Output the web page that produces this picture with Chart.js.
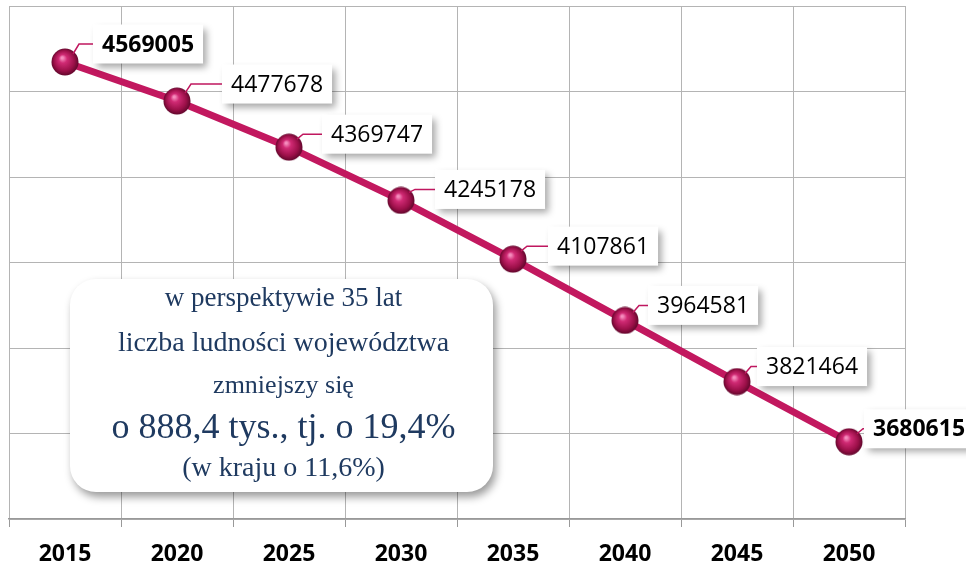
<!DOCTYPE html>
<html>
<head>
<meta charset="utf-8">
<script src="https://cdn.jsdelivr.net/npm/chart.js@4.4.1/dist/chart.umd.min.js"></script>
<style>
  body { margin: 0; background: #fff; }
  #wrap { width: 966px; height: 565px; }
</style>
</head>
<body>
<div id="wrap"><canvas id="popChart"></canvas></div>
<script>
// dane
var years = ['2015', '2020', '2025', '2030', '2035', '2040', '2045', '2050'];
var population = [4569005, 4477678, 4369747, 4245178, 4107861, 3964581, 3821464, 3680615];
var yMin = 3500000, yMax = 4700000, yStep = 200000;
var noteLines = [
  'w perspektywie 35 lat',
  'liczba ludności województwa',
  'zmniejszy się',
  'o 888,4 tys., tj. o 19,4%',
  '(w kraju o 11,6%)'
];

// kulka jako znacznik punktu
function makeBall(r) {
  var c = document.createElement('canvas');
  c.width = c.height = r * 2;
  var g = c.getContext('2d');
  var grad = g.createRadialGradient(r * 0.8, r * 0.7, 1, r, r, r);
  grad.addColorStop(0, '#f58cbd');
  grad.addColorStop(0.25, '#d02a74');
  grad.addColorStop(0.7, '#9c1049');
  grad.addColorStop(1, '#5c0629');
  g.fillStyle = grad;
  g.beginPath();
  g.arc(r, r, r - 0.5, 0, Math.PI * 2);
  g.fill();
  return c;
}
var ball = makeBall(14);

var labelPlugin = {
  id: 'boxLabels',
  afterDatasetsDraw: function(chart, args, opts) {
    var ctx = chart.ctx;
    var meta = chart.getDatasetMeta(0);
    var last = meta.data.length - 1;
    meta.data.forEach(function(pt, i) {
      var bold = (i === 0 || i === last);
      var txt = String(population[i]);
      ctx.save();
      ctx.font = (bold ? 'bold 23px' : '23px') + ' "Open Sans", sans-serif';
      var w = ctx.measureText(txt).width + 18;
      var h = 39;
      var bx = pt.x + opts.dx[i];
      var cy = pt.y + opts.dy[i];
      // odnośnik
      ctx.strokeStyle = '#c0175f';
      ctx.lineWidth = 1.5;
      ctx.beginPath();
      ctx.moveTo(pt.x + 8, pt.y - 8);
      ctx.lineTo(pt.x + 14, cy);
      ctx.lineTo(bx, cy);
      ctx.stroke();
      // ramka z cieniem
      ctx.shadowColor = 'rgba(0,0,0,0.35)';
      ctx.shadowBlur = 7;
      ctx.shadowOffsetX = 4;
      ctx.shadowOffsetY = 4;
      ctx.fillStyle = '#fff';
      ctx.fillRect(bx, cy - h / 2, w, h);
      ctx.shadowColor = 'transparent';
      ctx.fillStyle = '#000';
      ctx.textBaseline = 'middle';
      ctx.textAlign = 'left';
      ctx.fillText(txt, bx + 9, cy + 1);
      ctx.restore();
    });
  }
};

var notePlugin = {
  id: 'noteBox',
  afterDraw: function(chart) {
    var ctx = chart.ctx;
    var x = 70, y = 279, w = 423, h = 213, r = 26;
    ctx.save();
    ctx.shadowColor = 'rgba(0,0,0,0.4)';
    ctx.shadowBlur = 9;
    ctx.shadowOffsetX = 3;
    ctx.shadowOffsetY = 5;
    ctx.fillStyle = '#fff';
    ctx.beginPath();
    ctx.roundRect(x, y, w, h, r);
    ctx.fill();
    ctx.shadowColor = 'transparent';
    ctx.fillStyle = '#1f3a60';
    ctx.textAlign = 'center';
    ctx.textBaseline = 'alphabetic';
    var sizes = [27, 28, 26, 36, 28];
    var bases = [306, 351, 393, 438, 476];
    noteLines.forEach(function(line, i) {
      ctx.font = sizes[i] + 'px "Liberation Serif", serif';
      ctx.fillText(line, x + w / 2 + 2, bases[i]);
    });
    ctx.restore();
  }
};

var ctx = document.getElementById('popChart').getContext('2d');
var popChart = new Chart(ctx, {
  type: 'line',
  data: {
    labels: years,
    datasets: [{
      label: 'Ludność',
      data: population,
      borderColor: '#c2185f',
      borderWidth: 7,
      pointStyle: ball,
      pointRadius: 14,
      pointHoverRadius: 14,
      tension: 0,
      fill: false
    }]
  },
  options: {
    responsive: true,
    maintainAspectRatio: false,
    animation: false,
    events: [],
    layout: { autoPadding: false, padding: { left: 9, right: 61, top: 6, bottom: 0 } },
    plugins: {
      legend: { display: false },
      tooltip: { enabled: false },
      boxLabels: {
        dx: [28, 45, 33, 34, 35, 23, 20, 15],
        dy: [-18, -17, -13, -11, -13, -15, -15, -13]
      }
    },
    scales: {
      x: {
        offset: true,
        grid: {
          offset: true,
          color: function(c) { return c.index === years.length ? '#999' : '#b4b4b4'; },
          lineWidth: function(c) { return c.index === years.length ? 2 : 1; },
          tickLength: 8,
          tickColor: '#999'
        },
        border: { display: true, color: '#999', width: 1.5 },
        ticks: {
          color: '#000',
          padding: 14,
          font: { family: '"Open Sans", sans-serif', size: 23, weight: 'bold' }
        },
        afterFit: function(s) { s.height = 46; }
      },
      y: {
        min: yMin,
        max: yMax,
        ticks: { display: false, stepSize: yStep },
        grid: { color: '#b4b4b4', lineWidth: 1, drawTicks: false },
        border: { display: false }
      }
    }
  },
  plugins: [labelPlugin, notePlugin]
});
</script>
</body>
</html>
